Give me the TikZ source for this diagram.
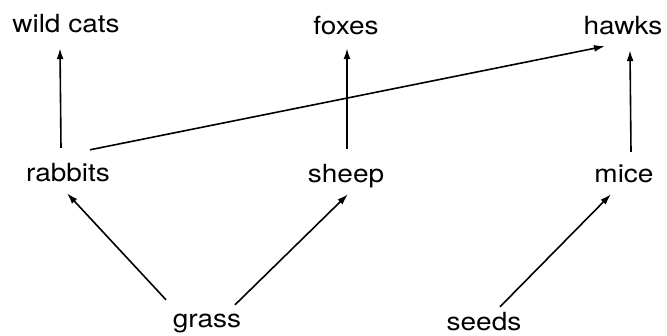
\documentclass[tikz,border=0pt]{standalone}
\usepackage{fontspec}
\setmainfont{TeX Gyre Heros}[FakeStretch=1.12]
\usetikzlibrary{arrows.meta}

\begin{document}
\begin{tikzpicture}[x=1pt, y=1pt,
  sp/.style={font=\fontsize{25pt}{30pt}\selectfont, text height=18pt, text depth=5pt, inner sep=0pt, anchor=base},
  eats/.style={line width=1.6pt, -{Latex[length=11pt,width=7pt]}}]
\useasboundingbox (0,0) rectangle (667,335);
\node[sp](wc) at (66,302){wild cats};
\node[sp](fx) at (346,300){foxes};
\node[sp](hk) at (623,300){hawks};
\node[sp](rb) at (68,153){rabbits};
\node[sp](sh) at (346,152){sheep};
\node[sp](mc) at (624,152){mice};
\node[sp](gr) at (207,8){grass};
\node[sp](sd) at (484,5){seeds};
% upward links
\draw[eats] ([shift={(-7,16)}]rb.north) -- ([shift={(-6,-10)}]wc.south);
\draw[eats] ([shift={(1,16)}]sh.north) -- ([shift={(1,-8)}]fx.south);
\draw[eats] ([shift={(7,13)}]mc.north) -- ([shift={(7,-10)}]hk.south);
\draw[eats] ([shift={(22,14)}]rb.north) -- ([shift={(-18,-6)}]hk.south);
% plants
\draw[eats] ([shift={(-41,9)}]gr.north) -- ([shift={(-1,-6)}]rb.south);
\draw[eats] ([shift={(28,4)}]gr.north) -- ([shift={(2,-6)}]sh.south);
\draw[eats] ([shift={(16,5)}]sd.north) -- ([shift={(-13,-6)}]mc.south);
\end{tikzpicture}
\end{document}
